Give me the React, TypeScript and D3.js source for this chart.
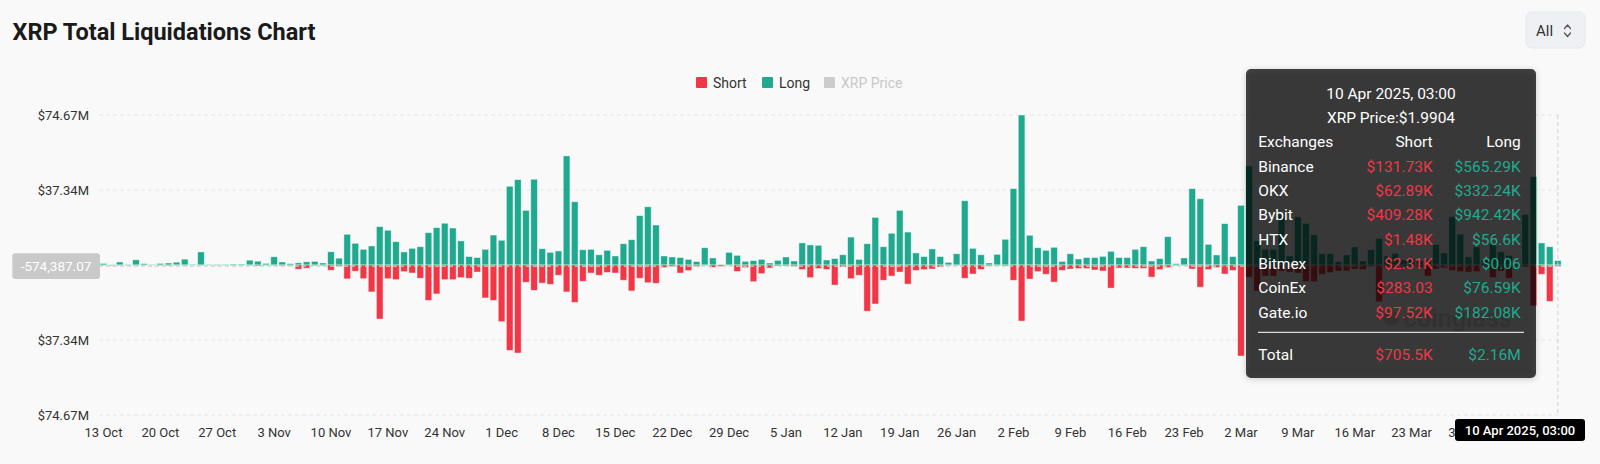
import React, { useEffect, useRef } from 'react';
import * as d3 from 'd3';

// daily liquidations, $M, starting 13 Oct 2024 (last bar = 10 Apr 2025)
const FIRST_DAY = '2024-10-13';

const LONG_M = [
  0.8, 0.2, 1.5, 0.3, 2.6, 0.7, 0.3, 0.8, 1.0, 1.4,
  2.9, 0.4, 6.5, 0.3, 0.3, 0.4, 0.5, 0.5, 2.4, 1.9,
  0.8, 4.1, 1.5, 0.7, 1.1, 1.6, 1.8, 1.0, 6.6, 3.4,
  15.3, 10.8, 7.8, 9.5, 19.1, 17.3, 11.6, 6.5, 8.3, 9.1,
  16.1, 18.6, 20.8, 18.4, 12.0, 4.2, 3.7, 7.8, 14.9, 12.3,
  39.2, 42.5, 27.2, 42.7, 8.1, 6.3, 7.0, 54.3, 31.5, 7.6,
  7.8, 5.1, 7.3, 4.5, 10.6, 12.6, 24.6, 29.0, 19.9, 4.5,
  4.0, 3.7, 2.8, 1.7, 8.6, 3.5, 0.3, 6.3, 4.8, 1.8,
  2.2, 2.8, 1.0, 2.3, 4.0, 2.0, 11.0, 10.0, 9.8, 2.5,
  3.2, 5.1, 13.9, 2.8, 10.6, 23.7, 9.1, 15.8, 27.2, 16.4,
  6.0, 4.2, 8.0, 4.2, 1.3, 5.6, 32.0, 8.3, 5.1, 1.0,
  5.3, 12.8, 38.0, 74.67, 14.8, 8.6, 7.3, 8.8, 1.8, 5.6,
  3.0, 3.7, 3.7, 4.3, 6.8, 3.7, 3.7, 7.8, 9.1, 2.0,
  3.2, 14.1, 0.7, 3.5, 38.0, 33.0, 10.3, 5.0, 20.6, 4.2,
  29.7, 49.3, 12.0, 7.8, 7.8, 25.0, 4.5, 24.0, 20.6, 15.0,
  5.6, 5.6, 1.7, 5.0, 9.0, 2.0, 7.6, 13.2, 4.5, 5.8,
  2.5, 3.0, 2.2, 2.8, 10.2, 6.0, 24.0, 15.3, 4.1, 9.0,
  2.5, 10.5, 6.6, 4.8, 1.0, 25.2, 44.0, 11.0, 9.1, 2.16,
];

const SHORT_M = [
  0.2, 0.4, 0.3, 0.2, 0.3, 0.1, 0.1, 0.2, 0.4, 0.2,
  0.3, 0.1, 0.2, 0.1, 0.2, 0.1, 0.3, 0.2, 0.2, 0.5,
  0.2, 0.3, 0.4, 0.4, 2.1, 1.6, 0.4, 0.4, 2.6, 0.7,
  6.9, 3.1, 6.8, 13.4, 26.9, 6.8, 7.3, 3.3, 4.0, 6.6,
  17.6, 14.4, 7.3, 7.3, 6.3, 6.6, 3.5, 16.4, 17.6, 28.2,
  42.5, 43.8, 8.6, 12.6, 9.0, 9.6, 5.1, 13.4, 18.6, 8.1,
  4.0, 5.1, 3.7, 4.0, 7.6, 12.9, 6.6, 8.8, 9.1, 1.3,
  0.8, 4.0, 2.8, 0.8, 0.3, 1.2, 0.7, 0.3, 3.2, 1.3,
  8.3, 4.3, 1.5, 0.5, 0.5, 0.7, 2.3, 6.3, 1.8, 2.2,
  10.0, 1.0, 6.8, 5.1, 23.0, 19.4, 7.6, 5.5, 3.5, 9.5,
  2.7, 2.3, 2.0, 1.0, 0.3, 0.3, 6.6, 4.5, 2.2, 0.5,
  0.3, 0.5, 7.6, 27.9, 7.0, 3.3, 4.6, 8.5, 2.7, 2.0,
  1.8, 1.8, 2.5, 3.0, 11.5, 1.5, 1.5, 1.7, 1.7, 6.0,
  2.3, 1.3, 0.3, 0.3, 2.0, 11.0, 2.3, 1.3, 4.5, 2.7,
  45.3, 6.0, 13.0, 5.5, 5.5, 3.0, 3.5, 4.0, 8.3, 8.3,
  4.6, 3.8, 3.0, 3.0, 2.0, 2.3, 0.8, 18.3, 1.5, 1.3,
  1.0, 0.6, 1.2, 5.5, 2.0, 1.5, 2.7, 3.3, 3.5, 3.3,
  1.3, 6.3, 3.0, 6.6, 0.6, 1.0, 20.3, 4.6, 18.1, 0.7055,
];

const Y_MAX = 74.67;
const POINTER_VALUE = -0.57438707; // $M, horizontal axis pointer

const LEGEND_LABELS = ['Short', 'Long', 'XRP Price'];

const TIP_TITLE = '10 Apr 2025, 03:00';
const TIP_PRICE = 'XRP Price:$1.9904';
const TIP_EXCHANGES = ['Binance', 'OKX', 'Bybit', 'HTX', 'Bitmex', 'CoinEx', 'Gate.io'];
const TIP_SHORT = ['$131.73K', '$62.89K', '$409.28K', '$1.48K', '$2.31K', '$283.03', '$97.52K'];
const TIP_LONG = ['$565.29K', '$332.24K', '$942.42K', '$56.6K', '$0.06', '$76.59K', '$182.08K'];
const TIP_TOTAL = ['$705.5K', '$2.16M'];

const RED = '#F23645';
const GREEN = '#1FAA8F';
const FONT = 'Roboto, sans-serif';

const W = 1600;
const H = 464;

export default function App() {
  const svgRef = useRef<SVGSVGElement | null>(null);

  useEffect(() => {
    if (!svgRef.current) return;
    const svg = d3.select(svgRef.current);
    svg.selectAll('*').remove();

    const start = d3.timeParse('%Y-%m-%d')(FIRST_DAY) as Date;
    const days = d3.timeDay.range(start, d3.timeDay.offset(start, LONG_M.length));
    const keys = days.map(d3.timeFormat('%Y-%m-%d'));
    const tickFmt = d3.timeFormat('%-d %b');
    const parse = d3.timeParse('%Y-%m-%d');

    const x = d3.scaleBand<string>()
      .domain(keys)
      .range([99.4, 1561.9])
      .paddingInner(0.18)
      .paddingOuter(0.09);

    const y = d3.scaleLinear()
      .domain([-Y_MAX, Y_MAX])
      .range([415, 115]);

    const left = 99;
    const right = 1561;

    // title
    svg.append('text')
      .attr('x', 12.5).attr('y', 40)
      .attr('font-family', FONT).attr('font-weight', 700).attr('font-size', 23.5)
      .attr('fill', '#1a1a1a')
      .text('XRP Total Liquidations Chart');

    // "All" selector
    const sel = svg.append('g');
    sel.append('rect')
      .attr('x', 1526).attr('y', 12).attr('width', 59).attr('height', 36).attr('rx', 6)
      .attr('fill', '#eef0f3').attr('stroke', '#e6e8ec');
    sel.append('text')
      .attr('x', 1536).attr('y', 35.5)
      .attr('font-family', FONT).attr('font-size', 15).attr('fill', '#333')
      .text('All');
    sel.append('path')
      .attr('d', 'M1564.5,28.5 L1567.5,25 L1570.5,28.5 M1564.5,33 L1567.5,36.5 L1570.5,33')
      .attr('fill', 'none').attr('stroke', '#555').attr('stroke-width', 1.3)
      .attr('stroke-linecap', 'round').attr('stroke-linejoin', 'round');

    // legend
    const legendColors = [RED, GREEN, '#cccccc'];
    const legendX = [696, 762, 824];
    const lg = svg.append('g');
    LEGEND_LABELS.forEach((label, i) => {
      lg.append('rect')
        .attr('x', legendX[i]).attr('y', 77).attr('width', 11).attr('height', 11).attr('rx', 1)
        .attr('fill', legendColors[i]);
      lg.append('text')
        .attr('x', legendX[i] + 17).attr('y', 87.5)
        .attr('font-family', FONT).attr('font-size', 14)
        .attr('fill', i === 2 ? '#c8c8c8' : '#333')
        .text(label);
    });

    // grid
    const yTicks = [Y_MAX, Y_MAX / 2, 0, -Y_MAX / 2, -Y_MAX];
    svg.append('g')
      .selectAll('line')
      .data(yTicks)
      .join('line')
        .attr('x1', left).attr('x2', right)
        .attr('y1', d => y(d)).attr('y2', d => y(d))
        .attr('stroke', '#e6e6e6').attr('stroke-dasharray', '4,3');

    // y labels
    svg.append('g')
      .selectAll('text')
      .data(yTicks.filter(d => d !== 0))
      .join('text')
        .attr('x', 89).attr('y', d => y(d)).attr('dy', '0.35em')
        .attr('text-anchor', 'end')
        .attr('font-family', FONT).attr('font-size', 13).attr('fill', '#333')
        .text(d => `$${(Math.abs(d) + 1e-9).toFixed(2)}M`);

    // bars
    const bw = x.bandwidth();
    svg.append('g')
      .selectAll('rect')
      .data(LONG_M)
      .join('rect')
        .attr('x', (_, i) => x(keys[i]) || 0)
        .attr('y', d => y(d))
        .attr('width', bw)
        .attr('height', d => y(0) - y(d))
        .attr('fill', GREEN)
        .attr('stroke', 'rgba(255,255,255,0.55)').attr('stroke-width', 0.8);

    svg.append('g')
      .selectAll('rect')
      .data(SHORT_M)
      .join('rect')
        .attr('x', (_, i) => x(keys[i]) || 0)
        .attr('y', y(0))
        .attr('width', bw)
        .attr('height', d => y(-d) - y(0))
        .attr('fill', RED)
        .attr('stroke', 'rgba(255,255,255,0.55)').attr('stroke-width', 0.8);

    // axis pointer position (last bar)
    const lastKey = keys[keys.length - 1];
    const px = (x(lastKey) || 0) + bw / 2;
    const py = y(POINTER_VALUE);
    const pointerBoxW = 130;
    const pointerBoxX = Math.min(px - pointerBoxW / 2, W - 15 - pointerBoxW);

    // x axis (a tick whose label would sit wholly under the pointer label is skipped)
    const xAxis = svg.append('g')
      .attr('transform', 'translate(0,415)')
      .call(
        d3.axisBottom(x)
          .tickValues(keys.filter((k, i) => i % 7 === 0 && (x(k) || 0) < pointerBoxX + 40))
          .tickFormat(k => tickFmt(parse(k) as Date))
          .tickSize(0)
          .tickPadding(12.5)
      );
    xAxis.select('.domain').remove();
    xAxis.selectAll('text')
      .attr('font-family', FONT).attr('font-size', 13).attr('fill', '#333');

    svg.append('line')
      .attr('x1', left).attr('x2', right).attr('y1', py).attr('y2', py)
      .attr('stroke', '#cfcfcf').attr('stroke-width', 1.2).attr('stroke-dasharray', '4,3');
    svg.append('line')
      .attr('x1', px).attr('x2', px).attr('y1', y(Y_MAX)).attr('y2', y(-Y_MAX))
      .attr('stroke', '#cfcfcf').attr('stroke-dasharray', '4,3');

    const locale = d3.formatLocale({ decimal: '.', thousands: ',', grouping: [3], currency: ['$', ''], minus: '-' });
    svg.append('rect')
      .attr('x', 12.3).attr('y', py - 12.8).attr('width', 87.7).attr('height', 25.6).attr('rx', 3)
      .attr('fill', '#c9c9c9');
    svg.append('text')
      .attr('x', 56).attr('y', py).attr('dy', '0.36em').attr('text-anchor', 'middle')
      .attr('font-family', FONT).attr('font-size', 13.5).attr('fill', '#fff')
      .text(locale.format(',.2f')(POINTER_VALUE * 1e6));

    svg.append('rect')
      .attr('x', pointerBoxX).attr('y', 419).attr('width', pointerBoxW).attr('height', 22).attr('rx', 3)
      .attr('fill', '#000');
    svg.append('text')
      .attr('x', pointerBoxX + pointerBoxW / 2).attr('y', 434.5).attr('text-anchor', 'middle')
      .attr('font-family', FONT).attr('font-size', 13).attr('font-weight', 500).attr('fill', '#fff')
      .text(TIP_TITLE);

    // faint watermark, only seen through the tooltip
    svg.append('circle').attr('cx', 1391).attr('cy', 318).attr('r', 8).attr('fill', '#dadada');
    svg.append('text')
      .attr('x', 1404).attr('y', 327)
      .attr('font-family', FONT).attr('font-size', 25).attr('font-weight', 600).attr('fill', '#dadada')
      .text('coinglass');

    // tooltip
    const tip = svg.append('g');
    tip.append('rect')
      .attr('x', 1246).attr('y', 69).attr('width', 290).attr('height', 309).attr('rx', 5)
      .attr('fill', 'rgba(0,0,0,0.73)')
      .style('filter', 'drop-shadow(0 1px 3px rgba(0,0,0,0.25))');

    const tText = (tx: number, ty: number, s: string, anchor: string, fill: string) =>
      tip.append('text')
        .attr('x', tx).attr('y', ty).attr('text-anchor', anchor)
        .attr('font-family', FONT).attr('font-size', 15.5).attr('fill', fill)
        .text(s);

    tText(1391, 99.3, TIP_TITLE, 'middle', '#fff');
    tText(1391, 123.3, TIP_PRICE, 'middle', '#fff');
    tText(1258.3, 147.3, 'Exchanges', 'start', '#fff');
    tText(1432.7, 147.3, 'Short', 'end', '#fff');
    tText(1520.7, 147.3, 'Long', 'end', '#fff');
    TIP_EXCHANGES.forEach((name, i) => {
      const ty = 171.7 + i * 24.33;
      tText(1258.3, ty, name, 'start', '#fff');
      tText(1432.7, ty, TIP_SHORT[i], 'end', RED);
      tText(1520.7, ty, TIP_LONG[i], 'end', GREEN);
    });
    tip.append('line')
      .attr('x1', 1258).attr('x2', 1524).attr('y1', 332.3).attr('y2', 332.3)
      .attr('stroke', '#dcdcdc').attr('stroke-width', 1.2);
    tText(1258.3, 360, 'Total', 'start', '#fff');
    tText(1432.7, 360, TIP_TOTAL[0], 'end', RED);
    tText(1520.7, 360, TIP_TOTAL[1], 'end', GREEN);
  }, []);

  return (
    <div style={{ position: 'fixed', left: 0, top: 0, width: W, height: H, background: '#f9f9f9' }}>
      <svg ref={svgRef} width={W} height={H} style={{ display: 'block' }} />
    </div>
  );
}
